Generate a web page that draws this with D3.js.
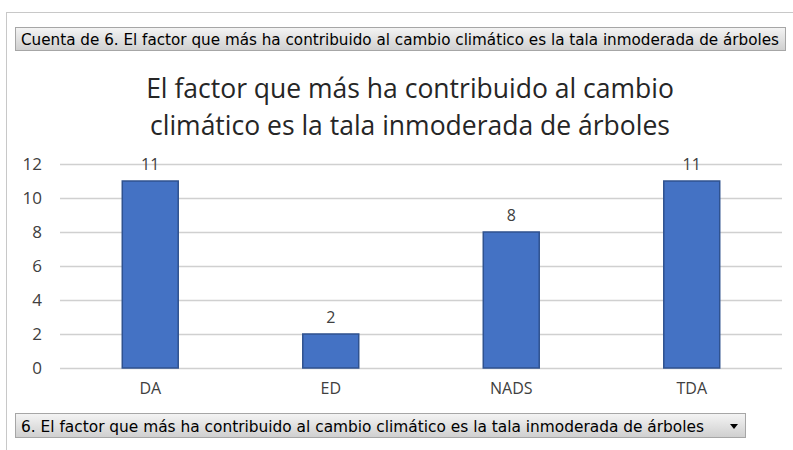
<!DOCTYPE html>
<html><head><meta charset="utf-8">
<script src="https://cdn.jsdelivr.net/npm/d3@7"></script>
<style>body{margin:0;background:#fff}svg{display:block}</style>
</head><body><svg id="c" width="793" height="450"></svg>
<script>
const categories = ["DA", "ED", "NADS", "TDA"];
const values = [11, 2, 8, 11];
const yTicks = [0, 2, 4, 6, 8, 10, 12];
const headerText = "Cuenta de 6. El factor que más ha contribuido al cambio climático es la tala inmoderada de árboles";
const titleLines = ["El factor que más ha contribuido al cambio", "climático es la tala inmoderada de árboles"];
const filterText = "6. El factor que más ha contribuido al cambio climático es la tala inmoderada de árboles";

const svg = d3.select("#c");
const defs = svg.append("defs");
const g1 = defs.append("linearGradient").attr("id","btn").attr("x1",0).attr("y1",0).attr("x2",0).attr("y2",1);
g1.append("stop").attr("offset","0%").attr("stop-color","#f4f4f4");
g1.append("stop").attr("offset","100%").attr("stop-color","#cfcfcf");

// outer frame
svg.append("rect").attr("x",6.5).attr("y",12.5).attr("width",800).attr("height",450).attr("fill","#fff").attr("stroke","#c8c8c8");

// header button
svg.append("rect").attr("x",15.5).attr("y",27.5).attr("width",770).attr("height",23).attr("fill","url(#btn)").attr("stroke","#a6a6a6");
svg.append("text").attr("x",21).attr("y",45).attr("font-family","DejaVu Sans Condensed").attr("font-size",15)
  .attr("fill","#000").attr("textLength",758).attr("lengthAdjust","spacingAndGlyphs").text(headerText);

// title
svg.append("g").selectAll("text").data(titleLines).join("text")
  .attr("x",410).attr("y",(d,i)=>98+i*37).attr("text-anchor","middle")
  .attr("font-family","Open Sans, sans-serif").attr("font-size",26.5).attr("fill","#262626").text(d=>d);

const x = d3.scaleBand().domain(categories).range([60,782]).paddingInner(0.69).paddingOuter(0.345);
const y = d3.scaleLinear().domain([0,12]).range([368,164]);

// grid
svg.append("g").selectAll("line").data(yTicks).join("line")
  .attr("x1",60).attr("x2",782).attr("y1",d=>Math.round(y(d))+0.5).attr("y2",d=>Math.round(y(d))+0.5)
  .attr("stroke","#d0d0d0").attr("stroke-width",1.5);

// y axis labels
const ya = svg.append("g").attr("transform","translate(60,0)").call(d3.axisLeft(y).tickValues(yTicks).tickSize(0).tickPadding(18));
ya.select(".domain").remove();
ya.selectAll("text").attr("font-family","Open Sans, sans-serif").attr("font-size",17).attr("fill","#404040");

// bars
svg.append("g").selectAll("rect").data(values).join("rect")
  .attr("x",(d,i)=>x(categories[i])).attr("width",x.bandwidth())
  .attr("y",d=>y(d)).attr("height",d=>y(0)-y(d))
  .attr("fill","#4472C4").attr("stroke","#2F528F").attr("stroke-width",1.5);

// value labels
svg.append("g").selectAll("text").data(values).join("text")
  .attr("x",(d,i)=>x(categories[i])+x.bandwidth()/2).attr("y",d=>y(d)-11)
  .attr("text-anchor","middle").attr("font-family","Open Sans, sans-serif").attr("font-size",16).attr("fill","#404040")
  .text(d=>d);

// x axis
const xa = svg.append("g").attr("transform","translate(0,368)").call(d3.axisBottom(x).tickSize(0).tickPadding(15));
xa.select(".domain").remove();
xa.selectAll("text").attr("font-family","Open Sans, sans-serif").attr("font-size",16).attr("fill","#404040");

// filter button
svg.append("rect").attr("x",15.5).attr("y",413.5).attr("width",730).attr("height",24).attr("fill","url(#btn)").attr("stroke","#a6a6a6");
svg.append("text").attr("x",21).attr("y",431.5).attr("font-family","DejaVu Sans Condensed").attr("font-size",15)
  .attr("fill","#000").attr("textLength",683).attr("lengthAdjust","spacingAndGlyphs").text(filterText);
svg.append("path").attr("d","M730,424 L738,424 L734,429 Z").attr("fill","#000");
</script></body></html>
